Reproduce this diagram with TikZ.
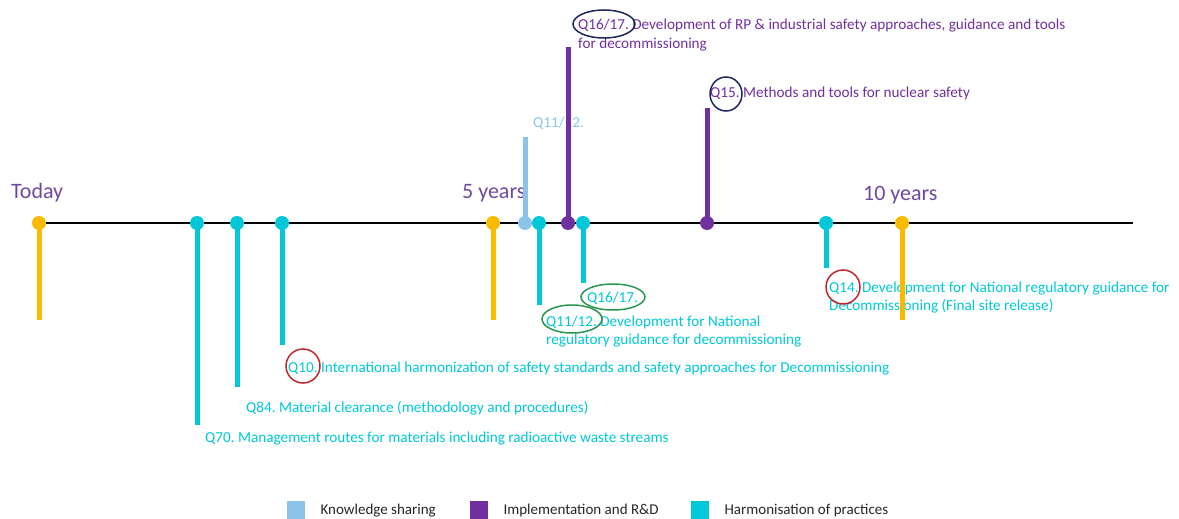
\documentclass[tikz,border=0pt]{standalone}
\usepackage{fontspec}
\setmainfont{Carlito}
\usetikzlibrary{positioning}
\definecolor{gold}{RGB}{250,186,0}
\definecolor{aqua}{RGB}{0,200,216}
\definecolor{sky}{RGB}{140,195,232}
\definecolor{grape}{RGB}{112,48,160}
\definecolor{yeartxt}{RGB}{112,72,160}
\definecolor{navyring}{RGB}{30,40,90}
\definecolor{greenring}{RGB}{40,150,80}
\definecolor{redring}{RGB}{190,40,45}

\begin{document}
\frenchspacing
\begin{tikzpicture}[x=1pt, y=-1pt,
     dot/.style = {circle, fill=#1, inner sep=0pt, minimum size=14pt},
    stem/.style = {line width=5pt, draw=#1, shorten <=-2pt},
    year/.style = {text=yeartxt, font=\fontsize{22}{26}\selectfont, anchor=base west, inner sep=0pt},
     lbl/.style = {text=#1, font=\fontsize{15.2}{18}\selectfont, anchor=base west, inner sep=0pt},
  legtxt/.style = {text=black!85, font=\fontsize{15}{18}\selectfont, inner sep=0pt},
    ring/.style = {draw=#1, line width=1.5pt},
     key/.style = {fill=#1, minimum size=18pt, inner sep=0pt, anchor=north west}]
  \useasboundingbox (0,0) rectangle (1179,519);

  % milestones
  \node[year] (today) at (11,198) {Today};
  \node[year] (five) at (462,198) {5 years};
  \node[year] (ten) at (863,200) {10 years};

  % labels
  \node[lbl=sky] (ks) at (533,128) {Q11/12.};
  \node[lbl=grape] (r1617a) at (578,30) {Q16/17. Development of RP \& industrial safety approaches, guidance and tools};
  \node[lbl=grape] (r1617b) at (578,49) {for decommissioning};
  \node[lbl=grape] (r15) at (710,98) {Q15. Methods and tools for nuclear safety};
  \node[lbl=aqua] (h1617) at (587,302) {Q16/17.};
  \node[lbl=aqua] (h1112a) at (546,326) {Q11/12. Development for National};
  \node[lbl=aqua] (h1112b) at (546,344) {regulatory guidance for decommissioning};
  \node[lbl=aqua] (h10) at (288,372) {Q10. International harmonization of safety standards and safety approaches for Decommissioning};
  \node[lbl=aqua] (h84) at (246,412) {Q84. Material clearance (methodology and procedures)};
  \node[lbl=aqua] (h70) at (205,442) {Q70. Management routes for materials including radioactive waste streams};
  \node[lbl=aqua] (h14a) at (829,292) {Q14. Development for National regulatory guidance for};
  \node[lbl=aqua] (h14b) at (829,310) {Decommissioning (Final site release)};

  % timeline
  \coordinate (t0) at (38,223);
  \coordinate (t1) at (1133,223);
  \draw[line width=2pt] (t0) -- (t1);

  \foreach \n/\x/\c/\e in {dToday/39/gold/320, dQ70/197/aqua/425, dQ84/237/aqua/387,
      dQ10/282/aqua/345, dFive/493/gold/320, dKs/525/sky/137, dQ1112/539/aqua/305,
      dR1617/568/grape/47, dH1617/583/aqua/283, dQ15/707/grape/108, dQ14/826/aqua/268,
      dTen/902/gold/320} {
    \node[dot=\c] (\n) at (\x,223) {};
    \coordinate (\n e) at (\x,\e);
    \draw[stem=\c] (\n) -- (\n e);
  }

  % rings
  \draw[ring=navyring] (604,24) ellipse [x radius=31pt, y radius=14pt];
  \draw[ring=navyring] (726,94) ellipse [x radius=16pt, y radius=17pt];
  \draw[ring=greenring] (613,297) ellipse [x radius=32pt, y radius=13pt];
  \draw[ring=greenring] (572,319) ellipse [x radius=30pt, y radius=14pt];
  \draw[ring=redring] (303,366) circle [radius=17pt];
  \draw[ring=redring] (843,287) circle [radius=17pt];

  % legend
  \node[key=sky] (kKs) at (287,501) {};
  \node[legtxt, right=15pt of kKs.east, anchor=base west, yshift=-4pt] (lKs) {Knowledge sharing};
  \node[key=grape] (kImp) at (470,501) {};
  \node[legtxt, right=15pt of kImp.east, anchor=base west, yshift=-4pt] (lImp) {Implementation and R\&D};
  \node[key=aqua] (kHar) at (691,501) {};
  \node[legtxt, right=15pt of kHar.east, anchor=base west, yshift=-4pt] (lHar) {Harmonisation of practices};
\end{tikzpicture}
\end{document}
